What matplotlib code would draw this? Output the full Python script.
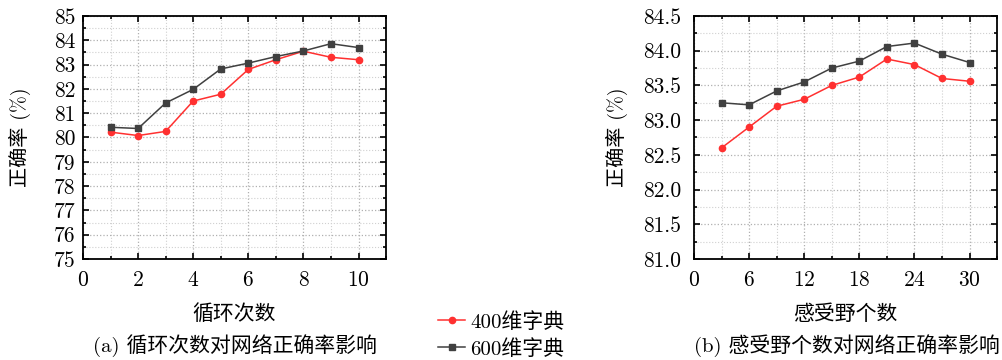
import numpy as np
import matplotlib
matplotlib.use('Agg')
import matplotlib.pyplot as plt
from matplotlib.ticker import MultipleLocator, FormatStrFormatter

plt.rcParams['font.family'] = ['cmr10', 'Noto Sans CJK SC']
plt.rcParams['axes.formatter.use_mathtext'] = True

# (a) loop count
loops = [1, 2, 3, 4, 5, 6, 7, 8, 9, 10]
acc400_a = [80.22, 80.08, 80.25, 81.5, 81.78, 82.8, 83.2, 83.55, 83.3, 83.2]
acc600_a = [80.42, 80.37, 81.42, 81.98, 82.82, 83.06, 83.33, 83.56, 83.86, 83.7]

# (b) receptive field count
fields = [3, 6, 9, 12, 15, 18, 21, 24, 27, 30]
acc400_b = [82.6, 82.9, 83.2, 83.3, 83.5, 83.62, 83.88, 83.8, 83.6, 83.56]
acc600_b = [83.25, 83.22, 83.42, 83.55, 83.75, 83.85, 84.06, 84.11, 83.95, 83.83]

label400 = '400维字典'
label600 = '600维字典'
red = '#ff3030'
gray = '#404040'

fig = plt.figure(figsize=(10.02, 3.6), dpi=100)
ax1 = fig.add_axes([0.0828, 0.2806, 0.3025, 0.675])
ax2 = fig.add_axes([0.6926, 0.2806, 0.3025, 0.675])


def style(ax, xmax, xmaj, xmin, ylo, yhi, ymaj, ymin, yfmt, ypad, ylab_x):
    ax.set_xlim(0, xmax)
    ax.set_ylim(ylo, yhi)
    ax.xaxis.set_major_locator(MultipleLocator(xmaj))
    ax.xaxis.set_minor_locator(MultipleLocator(xmin))
    ax.yaxis.set_major_locator(MultipleLocator(ymaj))
    ax.yaxis.set_minor_locator(MultipleLocator(ymin))
    ax.yaxis.set_major_formatter(FormatStrFormatter(yfmt))
    ax.tick_params(which='both', direction='in', top=True, right=True,
                   labelsize=15.5, width=1.2)
    ax.tick_params(which='major', length=4)
    ax.tick_params(which='minor', length=2.5)
    ax.tick_params(axis='x', pad=8.5)
    ax.tick_params(axis='y', pad=ypad)
    ax.grid(which='major', linestyle=':', color='#b0b0b0', linewidth=0.9)
    ax.grid(which='minor', linestyle=':', color='#d0d0d0', linewidth=0.8)
    ax.set_axisbelow(True)
    for s in ax.spines.values():
        s.set_linewidth(1.3)
    ax.set_ylabel('正确率 (%)', fontsize=14.5, va='center')
    ax.yaxis.set_label_coords(ylab_x, 0.5)


ax1.plot(loops, acc400_a, '-o', color=red, markersize=4.5, linewidth=1.1, label=label400)
ax1.plot(loops, acc600_a, '-s', color=gray, markersize=4, linewidth=1.1, label=label600)
style(ax1, 11, 2, 1, 75, 85, 1, 0.5, '%d', 5.5, -0.208)
ax1.set_xlabel('循环次数', fontsize=15, va='center')
ax1.xaxis.set_label_coords(0.5, -0.226)

ax2.plot(fields, acc400_b, '-o', color=red, markersize=4.5, linewidth=1.1, label=label400)
ax2.plot(fields, acc600_b, '-s', color=gray, markersize=4, linewidth=1.1, label=label600)
style(ax2, 33, 6, 3, 81, 84.5, 0.5, 0.25, '%.1f', 9, -0.254)
ax2.set_xlabel('感受野个数', fontsize=15, va='center')
ax2.xaxis.set_label_coords(0.5, -0.226)

fig.text(0.2343, 1 - 346 / 360, '(a) 循环次数对网络正确率影响', ha='center', va='center', fontsize=15)
fig.text(0.8455, 1 - 346 / 360, '(b) 感受野个数对网络正确率影响', ha='center', va='center', fontsize=15)

h, l = ax1.get_legend_handles_labels()
fig.legend(h, l, loc='center', bbox_to_anchor=(0.5005, 0.069), frameon=False,
           fontsize=15, handlelength=1.3, handletextpad=0.25, labelspacing=0.35,
           borderpad=0, borderaxespad=0)

fig.savefig('out.png', dpi=100)
